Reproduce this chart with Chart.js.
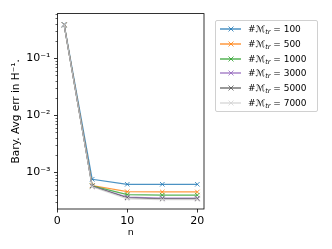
<!DOCTYPE html>
<html>
<head>
<meta charset="utf-8">
<script src="https://cdn.jsdelivr.net/npm/chart.js@4"></script>
<style>
html,body{margin:0;padding:0;background:#fff;}
#wrap{position:relative;width:332px;height:249px;}
#c{position:absolute;left:0;top:0;}
#leg{position:absolute;left:215px;top:20px;width:103px;height:92px;box-sizing:border-box;
  border:1px solid #d0d0d0;border-radius:2px;background:rgba(255,255,255,0.8);
  font-family:"DejaVu Sans",sans-serif;font-size:9px;color:#000;}
.row{position:absolute;left:0;height:12px;line-height:12px;white-space:nowrap;}
.row svg{position:absolute;left:4px;top:1px;}
.row span.t{position:absolute;left:32px;top:0;}
sub{font-size:6.5px;font-style:italic;vertical-align:-2px;line-height:0;}
</style>
</head>
<body>
<div id="wrap">
<canvas id="c" width="332" height="249"></canvas>
<div id="leg"></div>
</div>
<script>
// ── data ──
const nVals=[1,5,10,15,20];
const trSizes=[100,500,1000,3000,5000,7000];
const err100 =[0.39, 7.6e-4,6.2e-4, 6.2e-4, 6.2e-4];
const err500 =[0.385,5.9e-4,4.6e-4, 4.55e-4,4.55e-4];
const err1000=[0.38, 5.8e-4,4.1e-4, 4.0e-4, 4.0e-4];
const err3000=[0.38, 5.7e-4,3.7e-4, 3.55e-4,3.55e-4];
const err5000=[0.38, 5.7e-4,3.6e-4, 3.45e-4,3.45e-4];
const err7000=[0.38, 5.6e-4,3.45e-4,3.35e-4,3.35e-4];
const xTicks=[0,10,20];
const yMajors=[1e-3,1e-2,1e-1];
const yLabels=['10\u207B\u00B3','10\u207B\u00B2','10\u207B\u00B9'];

const series=[err100,err500,err1000,err3000,err5000,err7000];
const cols=['rgba(31,119,180,0.8)','rgba(255,127,14,0.8)','rgba(44,160,44,0.8)',
            'rgba(148,103,189,0.8)','rgba(85,85,85,0.8)','rgba(211,211,211,0.8)'];

const YMIN=2.29e-4, YMAX=0.603;

// minor ticks 2..9 x 10^k inside range
function logTicks(){
  const t=[];
  for(let e=-4;e<=0;e++)for(let m=1;m<=9;m++){
    const v=m*Math.pow(10,e);
    if(v>=YMIN&&v<=YMAX)t.push({value:v,major:m===1});
  }
  return t;
}

const frame={
  id:'frame',
  afterDraw(ch){
    const {ctx,chartArea:a,scales}=ch;
    ctx.save();
    ctx.strokeStyle='#000';ctx.lineWidth=0.8;
    ctx.strokeRect(a.left,a.top,a.right-a.left,a.bottom-a.top);
    // y ticks
    scales.y.ticks.forEach(t=>{
      const y=Math.round(scales.y.getPixelForValue(t.value))+0.5;
      const len=t.major?3.5:2;
      ctx.lineWidth=t.major?0.8:0.6;
      ctx.beginPath();ctx.moveTo(a.left,y);ctx.lineTo(a.left-len,y);ctx.stroke();
    });
    // x ticks
    ctx.lineWidth=0.8;
    scales.x.ticks.forEach(t=>{
      const x=Math.round(scales.x.getPixelForValue(t.value))+0.5;
      ctx.beginPath();ctx.moveTo(x,a.bottom);ctx.lineTo(x,a.bottom+3.5);ctx.stroke();
    });
    ctx.restore();
  }
};

new Chart(document.getElementById('c'),{
  type:'line',
  data:{
    labels:nVals,
    datasets:series.map((s,i)=>({
      label:'#M_tr = '+trSizes[i],
      data:nVals.map((n,j)=>({x:n,y:s[j]})),
      borderColor:cols[i],backgroundColor:cols[i],
      borderWidth:1.2,pointStyle:'crossRot',pointRadius:3.2,pointBorderWidth:1,
      pointHoverRadius:3.2,tension:0,order:-i
    }))
  },
  options:{
    responsive:false,animation:false,
    layout:{padding:{left:0,top:13,right:128,bottom:0}},
    plugins:{legend:{display:false},tooltip:{enabled:false}},
    scales:{
      x:{type:'linear',min:0.05,max:20.95,
        afterBuildTicks:s=>{s.ticks=xTicks.map(v=>({value:v}));},
        afterFit:s=>{s.height=40;},
        grid:{display:false,drawTicks:false},border:{display:false},
        ticks:{padding:6,color:'#000',font:{family:'DejaVu Sans',size:11},maxRotation:0,autoSkip:false},
        title:{display:true,text:'n',color:'#000',font:{family:'DejaVu Sans',size:9.5},padding:{top:0,bottom:11}}
      },
      y:{type:'logarithmic',min:YMIN,max:YMAX,
        afterBuildTicks:s=>{s.ticks=logTicks();},
        afterFit:s=>{s.width=57.5;},
        grid:{display:false,drawTicks:false},border:{display:false},
        ticks:{padding:7,color:'#000',font:{family:'DejaVu Sans',size:11},autoSkip:false,
          callback:(v)=>{const k=yMajors.findIndex(m=>Math.abs(m-v)/m<1e-6);return k>=0?yLabels[k]:'';}},
        title:{display:true,text:'Bary. Avg err in H\u207B\u00B9.',color:'#000',font:{family:'DejaVu Sans',size:10.5},padding:{top:10,bottom:0}}
      }
    }
  },
  plugins:[frame]
});

// legend (html, with subscripts)
const leg=document.getElementById('leg');
trSizes.forEach((n,i)=>{
  const r=document.createElement('div');
  r.className='row';r.style.top=(2+i*14.8)+'px';r.style.width='100%';
  r.innerHTML=`<svg width="22" height="10"><line x1="0" y1="5" x2="21" y2="5" stroke="${cols[i]}" stroke-width="1.5"/>`+
    `<path d="M8.5 2.5L13.5 7.5M13.5 2.5L8.5 7.5" stroke="${cols[i]}" stroke-width="1"/></svg>`+
    `<span class="t">#<i>\u2133</i><sub>tr</sub> = ${n}</span>`;
  leg.appendChild(r);
});
</script>
</body>
</html>
